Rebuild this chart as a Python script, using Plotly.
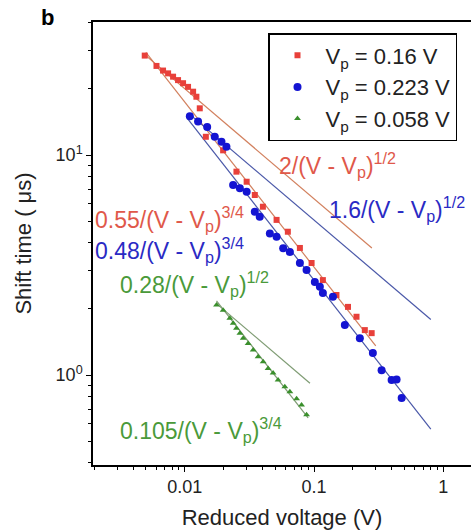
import plotly.graph_objects as go
import numpy as np

# ---- data ----
red_x = [0.0049, 0.00604, 0.00679, 0.00743, 0.00812, 0.00887, 0.0097, 0.0106, 0.0116, 0.0123,
         0.01306, 0.01455, 0.0198, 0.0251, 0.0301, 0.0348, 0.0402, 0.0513, 0.0627, 0.0777,
         0.0957, 0.117, 0.149, 0.183, 0.213, 0.247, 0.279]
red_y = [28.3, 25.4, 24.2, 23.5, 22.7, 21.9, 21.2, 20.4, 19.4, 18.4,
         16.3, 12.1, 10.5, 8.4, 7.56, 6.58, 5.82, 5.07, 4.48, 3.78,
         3.23, 2.70, 2.31, 2.04, 1.84, 1.60, 1.55]

blue_x = [0.01094, 0.01267, 0.0149, 0.01706, 0.01923, 0.0210, 0.02366, 0.02667, 0.0301, 0.0348,
          0.0380, 0.0455, 0.0513, 0.0577, 0.0650, 0.0777, 0.0875, 0.1014, 0.1109, 0.117,
          0.140, 0.173, 0.226, 0.285, 0.333, 0.398, 0.435, 0.476]
blue_y = [15.0, 14.2, 13.4, 12.1, 11.5, 10.9, 7.3, 7.06, 6.81, 5.52,
          5.24, 4.40, 4.25, 3.77, 3.62, 3.23, 3.00, 2.65, 2.52, 2.36,
          2.27, 1.69, 1.47, 1.26, 1.05, 0.95, 0.953, 0.786]

green_x = [0.0176, 0.0198, 0.0223, 0.0237, 0.0251, 0.0267, 0.0283, 0.0309, 0.0338, 0.0369,
           0.0404, 0.0441, 0.0482, 0.0527, 0.0594, 0.0650, 0.0733, 0.080, 0.0875]
green_y = [2.08, 1.97, 1.81, 1.72, 1.63, 1.55, 1.47, 1.39, 1.30, 1.21,
           1.15, 1.07, 1.02, 0.95, 0.885, 0.84, 0.78, 0.73, 0.66]

series_names = ["V<sub>p</sub> = 0.16 V", "V<sub>p</sub> = 0.223 V", "V<sub>p</sub> = 0.058 V"]

# power-law fits  A / (V - Vp)^n  drawn over [xmin, xmax]
fit_coef = [2.0, 0.55, 1.6, 0.48, 0.28, 0.105]
fit_exp = [0.5, 0.75, 0.5, 0.75, 0.5, 0.75]
fit_xmin = [0.005, 0.005, 0.011, 0.0105, 0.0176, 0.0176]
fit_xmax = [0.28, 0.30, 0.80, 0.80, 0.093, 0.09]
fit_labels = ["2/(V - V<sub>p</sub>)<sup>1/2</sup>", "0.55/(V - V<sub>p</sub>)<sup>3/4</sup>",
              "1.6/(V - V<sub>p</sub>)<sup>1/2</sup>", "0.48/(V - V<sub>p</sub>)<sup>3/4</sup>",
              "0.28/(V - V<sub>p</sub>)<sup>1/2</sup>", "0.105/(V - V<sub>p</sub>)<sup>3/4</sup>"]
label_x = [0.0515, 0.00196, 0.1256, 0.00196, 0.00303, 0.00303]
label_y = [9.0, 5.1, 5.7, 3.7, 2.6, 0.56]

x_tickvals = [0.01, 0.1, 1]
x_ticktext = ["0.01", "0.1", "1"]
y_tickvals = [1, 10]
y_ticktext = ["10<sup>0</sup>", "10<sup>1</sup>"]

# ---- styles ----
FONT = "Liberation Sans, Arial, sans-serif"
mk_col = ["#e8403a", "#1414d2", "#3a8f2c"]
mk_sym = ["square", "circle", "triangle-up"]
mk_size = [6, 8, 6]
fit_col = ["#d2805e", "#d2805e", "#4a58a8", "#4a58a8", "#7f9c74", "#7f9c74"]
lab_col = ["#e0584a", "#e0584a", "#2a2ac4", "#2a2ac4", "#4a9a3a", "#4a9a3a"]

fig = go.Figure()

for i in range(len(fit_coef)):
    xs = np.array([fit_xmin[i], fit_xmax[i]])
    ys = fit_coef[i] / xs ** fit_exp[i]
    fig.add_trace(go.Scatter(x=xs, y=ys, mode="lines",
                             line=dict(color=fit_col[i], width=1.2),
                             showlegend=False, hoverinfo="skip"))

for xs, ys, i in [(red_x, red_y, 0), (blue_x, blue_y, 1), (green_x, green_y, 2)]:
    fig.add_trace(go.Scatter(x=xs, y=ys, mode="markers", name=series_names[i],
                             marker=dict(color=mk_col[i], symbol=mk_sym[i], size=mk_size[i],
                                         line=dict(width=0))))

for i in range(len(fit_labels)):
    fig.add_annotation(x=np.log10(label_x[i]), y=np.log10(label_y[i]), xref="x", yref="y",
                       text=fit_labels[i], showarrow=False, xanchor="left", yanchor="middle",
                       font=dict(family=FONT, size=23, color=lab_col[i]))

fig.add_annotation(xref="paper", yref="paper", x=(47 - 93) / 378, y=(465 - 18) / 443,
                   xanchor="center", yanchor="middle", text="<b>b</b>", showarrow=False,
                   font=dict(family=FONT, size=22, color="black"))

axis_common = dict(showline=True, linecolor="black", linewidth=1.5, showgrid=False,
                   zeroline=False, ticks="outside", ticklen=5, tickcolor="black",
                   tickfont=dict(family=FONT, size=18, color="#222"))

fig.update_xaxes(type="log", range=[np.log10(0.00195), 0.214], mirror=True,
                 tickvals=x_tickvals, ticktext=x_ticktext,
                 minor=dict(ticks="outside", ticklen=3, tickcolor="black",
                            tickvals=[k * 10.0 ** e for e in (-3, -2, -1, 0) for k in range(2, 10)]),
                 title=dict(text="Reduced voltage (V)", font=dict(family=FONT, size=22, color="#222"),
                            standoff=18),
                 **axis_common)
fig.update_yaxes(type="log", range=[-0.409, 1.6045], mirror=False,
                 tickvals=y_tickvals, ticktext=y_ticktext,
                 minor=dict(ticks="outside", ticklen=3, tickcolor="black",
                            tickvals=[k * 10.0 ** e for e in (-1, 0, 1) for k in range(2, 10)]),
                 title=dict(text="Shift time ( \u03bcs)", font=dict(family=FONT, size=22, color="#222"),
                            standoff=18),
                 **axis_common)

fig.update_layout(
    width=471, height=530,
    margin=dict(l=93, r=0, t=22, b=65, autoexpand=False),
    paper_bgcolor="white", plot_bgcolor="white",
    font=dict(family=FONT, color="#222"),
    legend=dict(x=(268 - 93) / 378, y=(465 - 33) / 443, xanchor="left", yanchor="top",
                bordercolor="black", borderwidth=1.5, bgcolor="white",
                font=dict(family=FONT, size=22, color="#222"),
                tracegroupgap=0, itemwidth=46),
)

fig.write_html("out.html")
